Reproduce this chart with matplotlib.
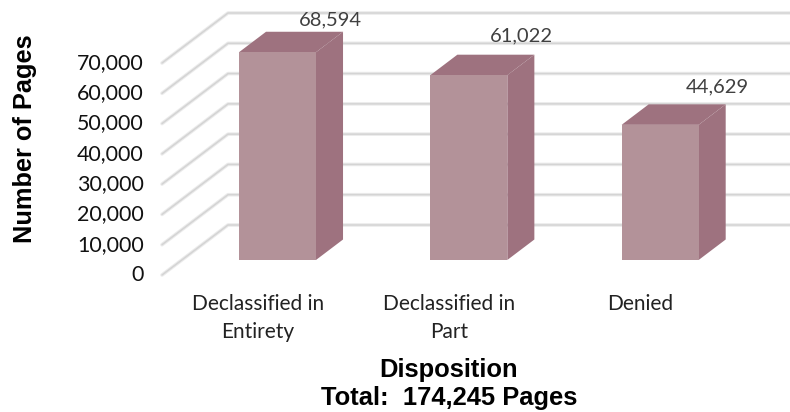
import matplotlib
matplotlib.use("Agg")
import matplotlib.pyplot as plt
from matplotlib.patches import Polygon
from matplotlib.transforms import ScaledTranslation

categories = ["Declassified in\nEntirety", "Declassified in\nPart", "Denied"]
pages = [68594, 61022, 44629]
y_ticks = [0, 10000, 20000, 30000, 40000, 50000, 60000, 70000]
x_title = "Disposition\nTotal:  174,245 Pages"
y_title = "Number of Pages"

W, H = 790, 412
# plot plane in pixels
L, R, B, T = 162, 736, 275, 63
fig = plt.figure(figsize=(W / 100, H / 100), dpi=100, facecolor="white")
ax = fig.add_axes([L / W, 1 - B / H, (R - L) / W, (B - T) / H])
ax.set_xlim(-0.5, 2.5)
ax.set_ylim(0, 70000)
for s in ax.spines.values():
    s.set_visible(False)
ax.patch.set_visible(False)

x_per_px = 3 / (R - L)
v_per_px = 70000 / (B - T)
DX, DY = 66 * x_per_px, 50 * v_per_px     # full depth shift in data units


def proj(x, v, d):
    return x + d * DX, v + d * DY


# walls / gridlines
for v in y_ticks:
    pts = [proj(-0.5, v, 0), proj(-0.5, v, 1), proj(2.5, v, 1)]
    xs, ys = zip(*pts)
    ax.plot(xs, ys, color="#ebebeb", lw=2.6, clip_on=False, zorder=1, solid_capstyle="round")
    ax.plot(xs, ys, color="#d4d4d4", lw=1.1, clip_on=False, zorder=1.1, solid_capstyle="round")

# bars
half = 38.5 * x_per_px
d0, d1 = 0.30, 0.71
front_c, side_c = "#b39299", "#9e727f"
for i, v in enumerate(pages):
    xl, xr = i - half, i + half
    ax.add_patch(Polygon([proj(xr, 0, d0), proj(xr, 0, d1), proj(xr, v, d1), proj(xr, v, d0)],
                         fc=side_c, ec="none", clip_on=False, zorder=2))
    ax.add_patch(Polygon([proj(xl, v, d0), proj(xl, v, d1), proj(xr, v, d1), proj(xr, v, d0)],
                         fc=side_c, ec="none", clip_on=False, zorder=2))
    ax.add_patch(Polygon([proj(xl, 0, d0), proj(xr, 0, d0), proj(xr, v, d0), proj(xl, v, d0)],
                         fc=front_c, ec="none", clip_on=False, zorder=3))

# data labels (pixel offset from bar's top-front-centre)
label_offsets = [(53, 32), (53, 39), (57, 38)]
for i, v in enumerate(pages):
    ax.annotate(f"{v:,}", proj(i, v, d0), xytext=label_offsets[i], textcoords="offset pixels",
                ha="center", va="center", fontsize=14.5, color="#404040", family="Lato",
                annotation_clip=False, zorder=5)

ax.set_yticks(y_ticks)
ax.set_yticklabels([f"{v:,}" for v in y_ticks], fontsize=15.4, family="Lato", color="#111111")
ax.set_xticks(range(3))
ax.set_xticklabels(categories, fontsize=15, family="Lato", color="#222222", linespacing=1.5)
ax.tick_params(axis="both", length=0)
ax.tick_params(axis="y", pad=13)
ax.tick_params(axis="x", pad=14)
lift = ScaledTranslation(0, 1.5 / 72, fig.dpi_scale_trans)
for t in ax.get_yticklabels():
    t.set_transform(t.get_transform() + lift)

ax.set_xlabel(x_title, fontsize=18.4, fontweight="bold", family="Liberation Sans", linespacing=1.22, labelpad=11)
ax.set_ylabel(y_title, fontsize=18.3, fontweight="bold", family="Liberation Sans")
ax.yaxis.set_label_coords((37 - L) / (R - L), (B - 139) / (B - T))

fig.savefig("out.png", dpi=100, facecolor="white")
